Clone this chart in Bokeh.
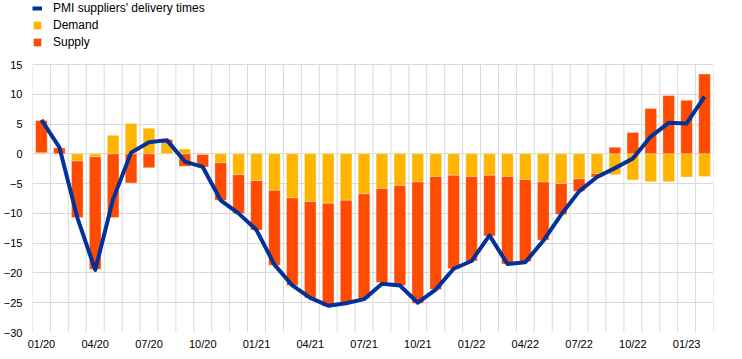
from bokeh.plotting import figure
from bokeh.models import ColumnDataSource, FixedTicker, Legend, LegendItem, Range1d
from bokeh.embed import file_html
from bokeh.resources import INLINE

# ---- data ----
months = ["01/20", "02/20", "03/20", "04/20", "05/20", "06/20", "07/20", "08/20", "09/20", "10/20",
          "11/20", "12/20", "01/21", "02/21", "03/21", "04/21", "05/21", "06/21", "07/21", "08/21",
          "09/21", "10/21", "11/21", "12/21", "01/22", "02/22", "03/22", "04/22", "05/22", "06/22",
          "07/22", "08/22", "09/22", "10/22", "11/22", "12/22", "01/23", "02/23"]

demand = [0.2, 0.0, -1.2, -0.5, 3.1, 5.1, 4.3, 1.7, 0.8, -0.1,
          -1.5, -3.5, -4.5, -6.1, -7.4, -8.0, -8.3, -7.8, -6.7, -5.8,
          -5.3, -4.7, -3.8, -3.6, -3.8, -3.6, -3.8, -4.3, -4.7, -5.0,
          -4.2, -3.3, -3.5, -4.4, -4.7, -4.7, -3.9, -3.8]

supply = [5.4, 1.0, -9.5, -18.9, -10.7, -4.9, -2.35, 0.7, -2.1, -2.1,
          -6.3, -6.5, -8.3, -12.6, -14.7, -16.2, -17.3, -17.3, -17.6, -15.8,
          -16.8, -20.4, -19.0, -15.7, -14.2, -10.2, -14.7, -13.8, -9.8, -5.2,
          -2.1, -0.6, 1.1, 3.6, 7.6, 9.8, 9.0, 13.4]

pmi = [5.7, 1.1, -10.7, -19.5, -7.6, 0.2, 1.95, 2.3, -1.3, -2.2,
       -7.8, -10.0, -12.8, -18.6, -22.1, -24.2, -25.5, -25.1, -24.4, -21.8,
       -22.1, -25.0, -22.8, -19.3, -18.0, -13.7, -18.5, -18.2, -14.6, -10.2,
       -6.3, -3.9, -2.4, -0.8, 2.9, 5.2, 5.1, 9.6]

tick_every = 3
y_ticks = [-30, -25, -20, -15, -10, -5, 0, 5, 10, 15]

# ---- stacking (positives and negatives stack separately) ----
x = list(range(len(months)))
d_bottom = [0.0] * len(x)
d_top = demand
s_bottom = [d if (d * s) > 0 else 0.0 for d, s in zip(demand, supply)]
s_top = [b + s for b, s in zip(s_bottom, supply)]

src = ColumnDataSource(dict(x=x, d_bottom=d_bottom, d_top=d_top,
                            s_bottom=s_bottom, s_top=s_top, pmi=pmi))

FONT = "Liberation Sans"
YELLOW = "#FFB400"
ORANGE = "#FF4B00"
BLUE = "#003299"
GRID = "#d9d9d9"

# frame spans the full canvas height above the axis; the upper part holds the legend
PLOT_H, BORDER_B = 355, 23
frame_h = PLOT_H - BORDER_B
value_h = 268
px_per_unit = value_h / (y_ticks[-1] - y_ticks[0])
y_top = y_ticks[-1] + (frame_h - value_h) / px_per_unit
BORDER_L, BORDER_R, FRAME_W = 31, 20, 682

p = figure(width=BORDER_L + FRAME_W + BORDER_R, height=PLOT_H,
           x_range=Range1d(-0.5, len(x) - 0.5), y_range=Range1d(y_ticks[0], y_top),
           output_backend="svg", toolbar_location=None,
           min_border_left=BORDER_L, min_border_right=BORDER_R, min_border_top=0,
           min_border_bottom=BORDER_B)
p.outline_line_color = None
p.background_fill_color = "white"

# vertical grid lines at the month boundaries, limited to the value range
bounds = [i - 0.5 for i in range(len(x) + 1)]
p.segment(x0=bounds, x1=bounds, y0=[y_ticks[0]] * len(bounds), y1=[y_ticks[-1]] * len(bounds),
          line_color=GRID, line_width=1, level="underlay")

r_d = p.vbar(x="x", bottom="d_bottom", top="d_top", width=0.65, source=src,
             fill_color=YELLOW, line_color="white", line_alpha=0.35, line_width=1)
r_s = p.vbar(x="x", bottom="s_bottom", top="s_top", width=0.65, source=src,
             fill_color=ORANGE, line_color="white", line_alpha=0.35, line_width=1)
r_l = p.line(x="x", y="pmi", source=src, line_color=BLUE, line_width=4, line_join="round")

# grids
p.xgrid.grid_line_color = None
p.ygrid.grid_line_color = GRID
p.ygrid.grid_line_width = 1
p.ygrid.ticker = FixedTicker(ticks=y_ticks)

# axes
xt = list(range(0, len(x), tick_every))
p.xaxis.ticker = FixedTicker(ticks=xt)
p.xaxis.major_label_overrides = {i: months[i] for i in xt}
p.yaxis.ticker = FixedTicker(ticks=y_ticks)
for ax in (p.xaxis[0], p.yaxis[0]):
    ax.axis_line_color = None
    ax.major_tick_line_color = None
    ax.minor_tick_line_color = None
    ax.major_tick_out = 0
    ax.major_tick_in = 0
    ax.major_label_text_font = FONT
    ax.major_label_text_font_size = "11px"
    ax.major_label_text_color = "black"
p.yaxis.major_label_standoff = 10
p.xaxis.major_label_standoff = 5

legend = Legend(items=[LegendItem(label="PMI suppliers' delivery times", renderers=[r_l]),
                       LegendItem(label="Demand", renderers=[r_d]),
                       LegendItem(label="Supply", renderers=[r_s])],
                location=(0, frame_h - 49), orientation="vertical",
                label_text_font=FONT, label_text_font_size="12px", label_text_color="black",
                glyph_width=10, glyph_height=10, label_height=14, spacing=3,
                label_standoff=11, padding=0, margin=0,
                border_line_color=None, background_fill_alpha=0)
p.add_layout(legend, "center")

open("out.html", "w").write(file_html(p, INLINE))
